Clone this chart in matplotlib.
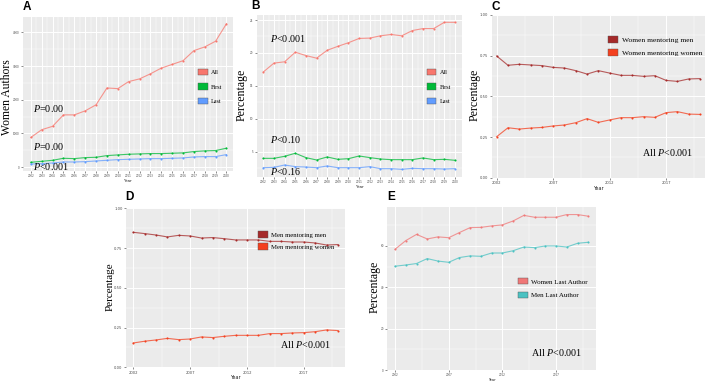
import numpy as np
import matplotlib
matplotlib.use("Agg")
import matplotlib.pyplot as plt
from matplotlib.patches import Patch

# ---- data ----
years = np.arange(2002, 2021)

# A: number of women authors
a_all = [880, 1110, 1210, 1550, 1550, 1670, 1850, 2350, 2330, 2540, 2620, 2770, 2940, 3050, 3160, 3460, 3570, 3740, 4260]
a_first = [140, 170, 200, 260, 250, 280, 290, 340, 360, 380, 390, 400, 400, 410, 420, 460, 480, 490, 560]
a_last = [90, 100, 120, 150, 150, 160, 180, 200, 220, 230, 240, 250, 250, 260, 270, 300, 310, 310, 370]

# B: percentage of women authors
b_all = [17.1, 18.45, 18.65, 20.1, 19.6, 19.2, 20.4, 21.0, 21.55, 22.2, 22.25, 22.6, 22.8, 22.6, 23.4, 23.7, 23.7, 24.65, 24.65]
b_first = [3.98, 3.98, 4.29, 4.75, 4.09, 3.73, 4.19, 3.83, 3.93, 4.34, 4.09, 3.88, 3.78, 3.78, 3.78, 4.04, 3.78, 3.83, 3.68]
b_last = [2.56, 2.61, 2.97, 2.72, 2.66, 2.56, 2.82, 2.56, 2.56, 2.56, 2.72, 2.41, 2.41, 2.31, 2.46, 2.41, 2.41, 2.36, 2.41]

# C: women mentoring
c_men = [0.748, 0.691, 0.697, 0.693, 0.689, 0.678, 0.674, 0.658, 0.637, 0.658, 0.643, 0.629, 0.629, 0.623, 0.627, 0.598, 0.592, 0.607, 0.609]
c_women = [0.252, 0.307, 0.299, 0.305, 0.309, 0.318, 0.324, 0.338, 0.363, 0.340, 0.355, 0.369, 0.369, 0.375, 0.371, 0.400, 0.406, 0.391, 0.389]

# D: men mentoring
d_men = [0.849, 0.841, 0.832, 0.820, 0.830, 0.826, 0.813, 0.816, 0.809, 0.801, 0.801, 0.801, 0.792, 0.792, 0.788, 0.788, 0.782, 0.769, 0.772]
d_women = [0.153, 0.164, 0.172, 0.182, 0.174, 0.178, 0.191, 0.187, 0.195, 0.201, 0.201, 0.201, 0.212, 0.212, 0.216, 0.218, 0.224, 0.235, 0.231]

# E: last author
e_women = [58.4, 62.6, 65.6, 63.4, 64.4, 64.0, 66.5, 68.9, 69.0, 69.7, 70.2, 72.1, 74.8, 73.9, 73.9, 73.9, 75.2, 75.2, 74.4]
e_men = [50.2, 50.8, 51.5, 53.9, 52.7, 52.1, 54.4, 55.2, 55.0, 56.6, 56.6, 57.7, 59.5, 59.2, 60.0, 60.0, 59.5, 61.3, 61.8]

W, H = 709, 381
plt.rcParams['mathtext.fontset'] = 'custom'
plt.rcParams['mathtext.rm'] = 'Liberation Serif'
plt.rcParams['mathtext.it'] = 'Liberation Serif:italic'

fig = plt.figure(figsize=(W / 100, H / 100), dpi=100)
fig.patch.set_facecolor('white')

SERIF = 'Liberation Serif'


def make_ax(box):
    l, t, r, b = box
    ax = fig.add_axes([l / W, 1 - b / H, (r - l) / W, (b - t) / H])
    ax.set_facecolor('#EBEBEB')
    for s in ax.spines.values():
        s.set_visible(False)
    ax.set_axisbelow(True)
    ax.grid(True, which='major', color='white', lw=0.7)
    ax.grid(True, which='minor', color='white', lw=0.35)
    ax.tick_params(which='major', length=1.5, width=0.4, color='#333333',
                   labelcolor='#4D4D4D', pad=1)
    ax.tick_params(which='minor', length=0)
    return ax


def frac(box, x, y):
    l, t, r, b = box
    return (x - l) / (r - l), (b - y) / (b - t)


def ftext(x, y, s, size, **kw):
    fig.text(x / W, 1 - y / H, s, fontsize=size, family=SERIF, va='center', **kw)


def legend(ax, box, x, y, labels, colors, size, hl, hh, ls):
    handles = [Patch(facecolor=c, edgecolor='#555555', lw=0.3, label=lab)
               for lab, c in zip(labels, colors)]
    ax.legend(handles=handles, loc='upper left', bbox_to_anchor=frac(box, x, y),
              frameon=False, borderpad=0, borderaxespad=0, handlelength=hl,
              handleheight=hh, labelspacing=ls, handletextpad=0.5,
              prop={'family': SERIF, 'size': size})


def series(ax, y, color):
    ax.plot(years, y, color=color, lw=0.8, alpha=0.75)
    ax.plot(years, y, 'o', color=color, ms=1.5, mew=0)


def panel_label(x, y, s):
    fig.text(x / W, 1 - y / H, s, fontsize=8.5, fontweight='bold',
             family='Liberation Sans', va='center')


red, green, blue = '#F8766D', '#00BA38', '#619CFF'

# ---- A ----
boxA = (22.7, 16.7, 233, 171)
ax = make_ax(boxA)
series(ax, a_all, red)
series(ax, a_first, green)
series(ax, a_last, blue)
ax.set_xlim(2001.25, 2020.6)
ax.set_ylim(-118, 4468)
ax.set_xticks(years)
ax.set_xticks(years[:-1] + 0.5, minor=True)
ax.set_yticks([0, 1000, 2000, 3000, 4000])
ax.set_yticks([500, 1500, 2500, 3500], minor=True)
ax.tick_params(labelsize=2)
ax.set_xlabel('Year', fontsize=3, color='#222222', labelpad=0.5)
legend(ax, boxA, 198.3, 68.5, ['All', 'First', 'Last'], [red, green, blue], 4.4, 1.6, 1.2, 1.4)
ftext(7.5, 97, 'Women Authors', 8.4, rotation=90, ha='center')
ftext(33, 108, '$P$=0.00', 7.3)
ftext(33, 147, '$P$=0.00', 7.3)
ftext(33, 167, '$P$<0.001', 7.3)
panel_label(23, 7, 'A')

# ---- B ----
boxB = (256.7, 15, 461.7, 176.7)
ax = make_ax(boxB)
series(ax, b_all, red)
series(ax, b_first, green)
series(ax, b_last, blue)
ax.set_xlim(2001.38, 2020.63)
ax.set_ylim(1.19, 25.76)
ax.set_xticks(years)
ax.set_xticks(years[:-1] + 0.5, minor=True)
ax.set_yticks([5, 10, 15, 20, 25])
ax.set_yticks([2.5, 7.5, 12.5, 17.5, 22.5], minor=True)
ax.tick_params(labelsize=2)
ax.set_xlabel('Year', fontsize=3, color='#222222', labelpad=0.5)
legend(ax, boxB, 426.7, 68.5, ['All', 'First', 'Last'], [red, green, blue], 4.4, 1.6, 1.2, 1.4)
ftext(242, 95, 'Percentage', 8.6, rotation=90, ha='center')
ftext(270, 38, '$P$<0.001', 7.3)
ftext(270, 140, '$P$<0.10', 7.3)
ftext(270, 172, '$P$<0.16', 7.3)
panel_label(251, 6, 'B')

# ---- C ----
dred, ored = '#A52A2A', '#F4401F'
boxC = (491.7, 15, 705, 177.7)
ax = make_ax(boxC)
series(ax, c_men, dred)
series(ax, c_women, ored)
ax.set_xlim(2001.56, 2020.44)
ax.set_ylim(0, 1)
ax.set_xticks([2002, 2007, 2012, 2017])
ax.set_xticks([2004.5, 2009.5, 2014.5, 2019.5], minor=True)
ax.set_yticks([0, 0.25, 0.5, 0.75, 1.0])
ax.set_yticks([0.125, 0.375, 0.625, 0.875], minor=True)
ax.set_yticklabels(['0.00', '0.25', '0.50', '0.75', '1.00'])
ax.tick_params(labelsize=2.7)
ax.set_xlabel('Year', fontsize=3.6, color='#222222', labelpad=0.5)
legend(ax, boxC, 608.3, 36, ['Women mentoring men', 'Women mentoring women'],
       [dred, ored], 5.4, 1.3, 1.05, 0.8)
ftext(475, 95, 'Percentage', 8.6, rotation=90, ha='center')
ftext(642, 153, 'All $P$<0.001', 7.2)
panel_label(492, 7, 'C')

# ---- D ----
boxD = (126, 208.3, 345, 367.3)
ax = make_ax(boxD)
series(ax, d_men, dred)
series(ax, d_women, ored)
ax.set_xlim(2001.36, 2020.62)
ax.set_ylim(0, 1)
ax.set_xticks([2002, 2007, 2012, 2017])
ax.set_xticks([2004.5, 2009.5, 2014.5, 2019.5], minor=True)
ax.set_yticks([0, 0.25, 0.5, 0.75, 1.0])
ax.set_yticks([0.125, 0.375, 0.625, 0.875], minor=True)
ax.set_yticklabels(['0.00', '0.25', '0.50', '0.75', '1.00'])
ax.tick_params(labelsize=2.7)
ax.set_xlabel('Year', fontsize=3.6, color='#222222', labelpad=0.5)
legend(ax, boxD, 257.7, 231, ['Men mentoring men', 'Men mentoring women'],
       [dred, ored], 4.9, 1.45, 1.15, 0.8)
ftext(110, 287, 'Percentage', 8.0, rotation=90, ha='center')
ftext(280, 344, 'All $P$<0.001', 7.2)
panel_label(125, 197, 'D')

# ---- E ----
pink, teal = '#F07878', '#4BC2C2'
boxE = (387.3, 206.7, 596, 370)
ax = make_ax(boxE)
series(ax, e_women, pink)
series(ax, e_men, teal)
ax.set_xlim(2001.28, 2020.72)
ax.set_ylim(0, 79)
ax.set_xticks([2002, 2007, 2012, 2017])
ax.set_xticks([2004.5, 2009.5, 2014.5, 2019.5], minor=True)
ax.set_yticks([0, 20, 40, 60])
ax.set_yticks([10, 30, 50, 70], minor=True)
ax.tick_params(labelsize=2)
ax.set_xlabel('Year', fontsize=2.6, color='#222222', labelpad=0.5)
legend(ax, boxE, 517.7, 278, ['Women Last Author', 'Men Last Author'],
       [pink, teal], 5.0, 1.45, 1.05, 1.0)
ftext(375, 287, 'Percentage', 8.6, rotation=90, ha='center')
ftext(531, 352, 'All $P$<0.001', 7.2)
panel_label(387, 197, 'E')

fig.savefig('out.png', dpi=100)
